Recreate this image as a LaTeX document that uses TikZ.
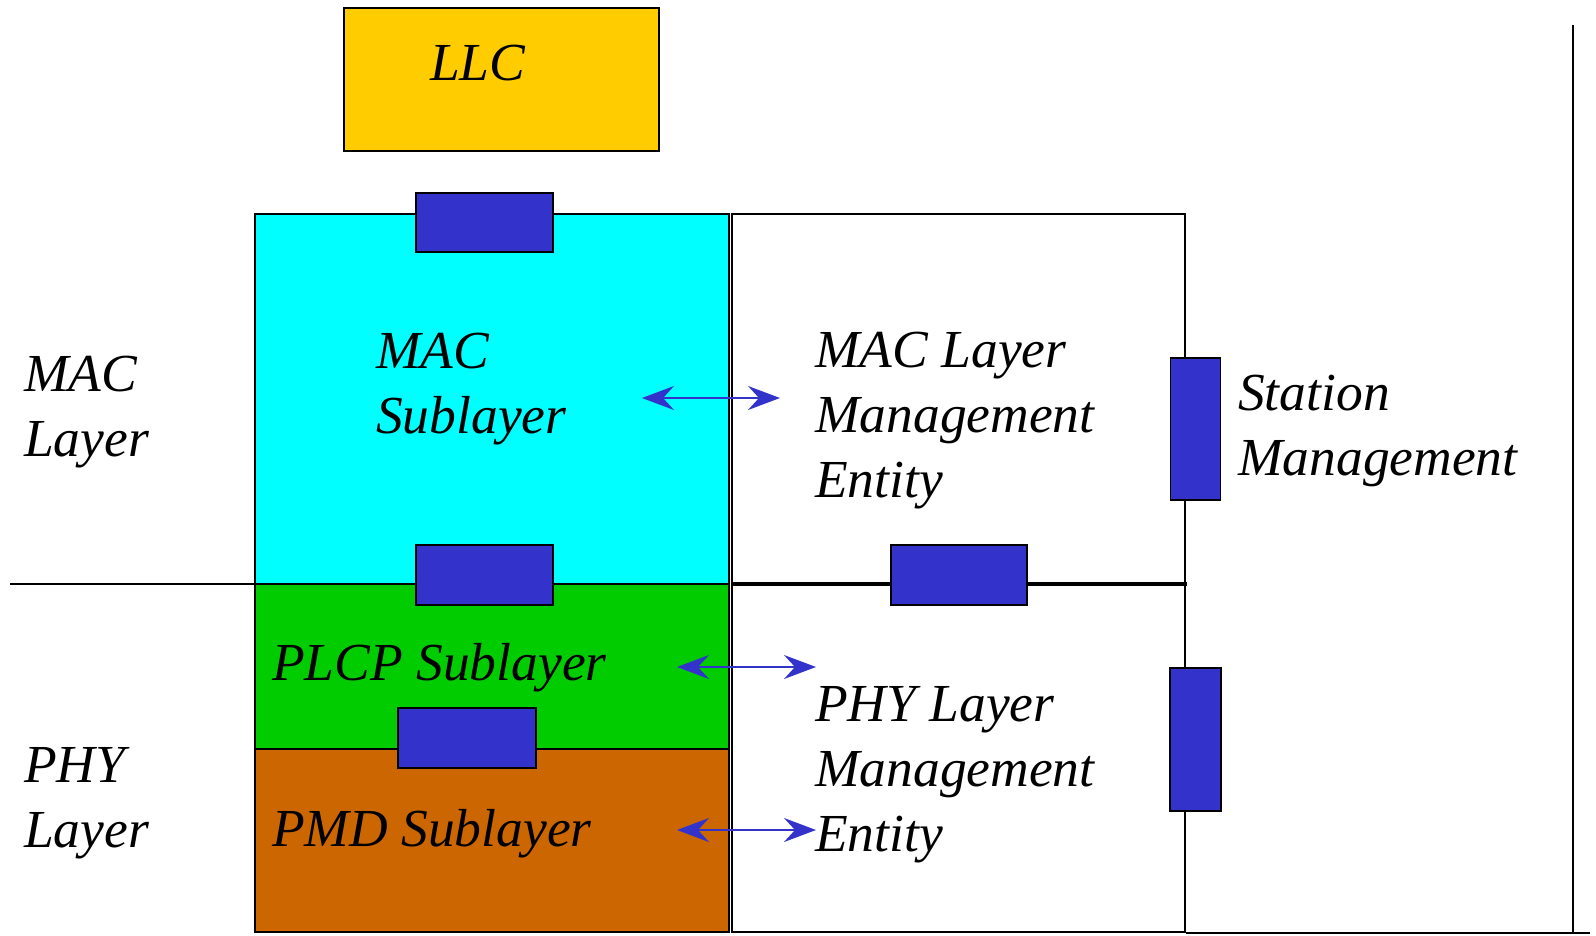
\documentclass[tikz,border=0pt]{standalone}
\usepackage{fontspec}
\setmainfont{Liberation Serif}
\usetikzlibrary{arrows.meta}
\definecolor{llcyellow}{HTML}{FFCC00}
\definecolor{maccyan}{HTML}{00FFFF}
\definecolor{plcpgreen}{HTML}{00CC00}
\definecolor{pmdorange}{HTML}{CC6600}
\definecolor{sapblue}{HTML}{3333CC}
\begin{document}
\begin{tikzpicture}[x=1pt,y=-1pt,
  layerbox/.style={draw=black,line width=1.6pt},
  sapbox/.style={draw=black,fill=sapblue,line width=1.6pt},
  lbl/.style={anchor=base west,inner sep=0pt,align=left,font=\fontsize{53.5}{65}\selectfont\itshape},
  biarrow/.style={draw=sapblue,line width=2pt,{Stealth[length=32pt,width=24pt,inset=11pt]}-{Stealth[length=32pt,width=24pt,inset=11pt]}}]
\useasboundingbox (0,0) rectangle (1596,935);
% layer boxes
\draw[layerbox,fill=llcyellow] (344,8) rectangle (659,151);
\draw[layerbox,fill=maccyan] (255,214) rectangle (729,584);
\draw[layerbox,fill=plcpgreen] (255,584) rectangle (729,749);
\draw[layerbox,fill=pmdorange] (255,749) rectangle (729,932);
\draw[layerbox,fill=white] (732,214) rectangle (1185,584);
\draw[layerbox,fill=white] (732,584) rectangle (1185,932);
% lines
\coordinate (divL) at (10,584);
\coordinate (divR) at (255,584);
\draw[line width=1.6pt] (divL) -- (divR);
\coordinate (midL) at (732,584);
\coordinate (midR) at (1187,584);
\draw[line width=3.5pt] (midL) -- (midR);
\coordinate (smTop) at (1573,25);
\coordinate (smBot) at (1573,933);
\draw[line width=2pt] (smTop) -- (smBot);
\coordinate (botL) at (1186,933);
\coordinate (botR) at (1590,933);
\draw[line width=1.6pt] (botL) -- (botR);
% service access points
\node[sapbox,minimum width=137pt,minimum height=59pt,inner sep=0pt] (sap1) at (484.5,222.5) {};
\node[sapbox,minimum width=137pt,minimum height=60pt,inner sep=0pt] (sap2) at (484.5,575) {};
\node[sapbox,minimum width=136pt,minimum height=60pt,inner sep=0pt] (sap3) at (959,575) {};
\node[sapbox,minimum width=138pt,minimum height=60pt,inner sep=0pt] (sap4) at (467,738) {};
\node[sapbox,minimum width=50pt,minimum height=142pt,inner sep=0pt] (sap5) at (1195.5,429) {};
\node[sapbox,minimum width=51pt,minimum height=143pt,inner sep=0pt] (sap6) at (1195.5,739.5) {};
% labels (anchor is the baseline of the last line)
\node[lbl] (llc) at (430,80) {LLC};
\node[lbl] (macsub) at (376,433) {MAC\\Sublayer};
\node[lbl] (maclayer) at (24,456) {MAC\\Layer};
\node[lbl] (mlme) at (815,497) {MAC Layer\\Management\\Entity};
\node[lbl] (sm) at (1238,475) {Station\\Management};
\node[lbl] (plcp) at (272,680) {PLCP Sublayer};
\node[lbl] (pmd) at (272,846) {PMD Sublayer};
\node[lbl] (plme) at (815,851) {PHY Layer\\Management\\Entity};
\node[lbl] (phylayer) at (24,847) {PHY\\Layer};
% arrows
\coordinate (a1L) at (642,398);
\coordinate (a1R) at (780,398);
\draw[biarrow] (a1L) -- (a1R);
\coordinate (a2L) at (677,667);
\coordinate (a2R) at (816,667);
\draw[biarrow] (a2L) -- (a2R);
\coordinate (a3L) at (677,830);
\coordinate (a3R) at (816,830);
\draw[biarrow] (a3L) -- (a3R);
\end{tikzpicture}
\end{document}
